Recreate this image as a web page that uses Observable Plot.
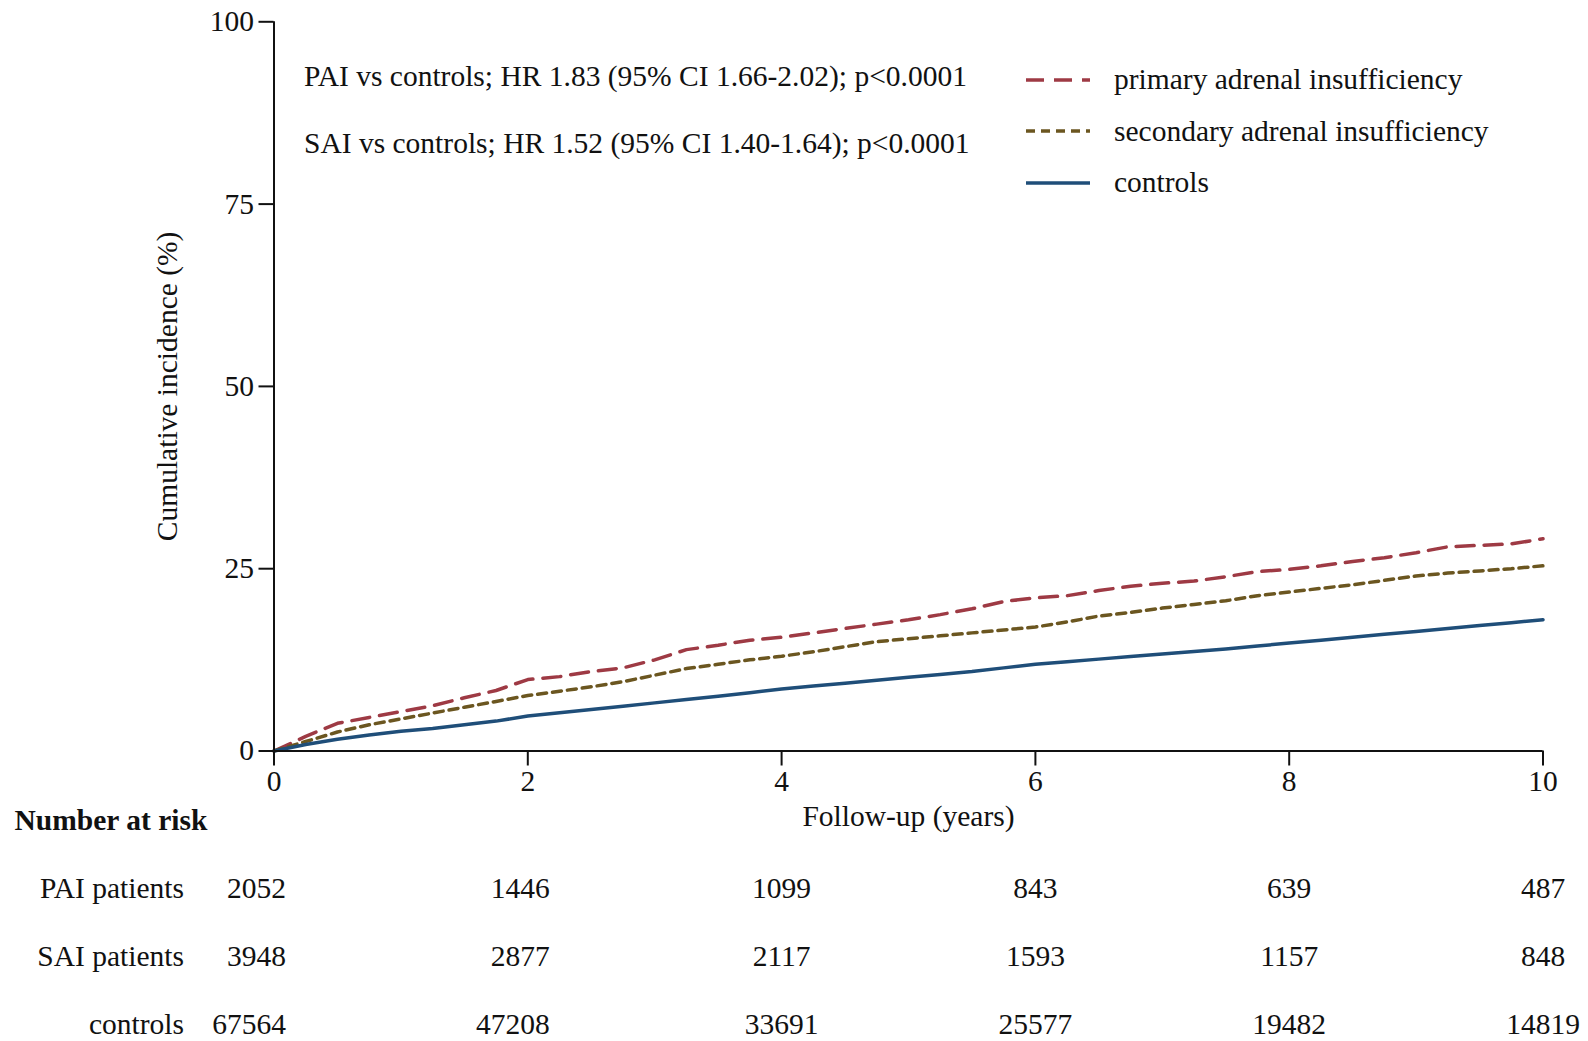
<!DOCTYPE html>
<html>
<head>
<meta charset="utf-8">
<script src="https://cdn.jsdelivr.net/npm/d3@7"></script>
<script src="https://cdn.jsdelivr.net/npm/@observablehq/plot@0.6"></script>
<style>
  html, body { margin: 0; padding: 0; background: #fff; overflow: hidden; }
  #wrap { position: relative; width: 1588px; height: 1041px; font-family: "Liberation Serif", "Times New Roman", serif; }
  #legend { position: absolute; left: 1024px; top: 54px; font-size: 29.5px; color: #111; }
  #legend .row { display: flex; align-items: center; height: 51.5px; white-space: nowrap; }
  #legend svg { width: 70px; height: 10px; margin-right: 20px; flex: none; }
  #table { margin-top: -40px; }
  #main svg, #table svg { max-width: none; }
</style>
</head>
<body>
<div id="wrap">
  <div id="main"></div>
  <div id="table"></div>
  <div id="legend"></div>
</div>
<script>
// ---- data ----
const times = [0,0.25,0.5,0.75,1,1.25,1.5,1.75,2,2.25,2.5,2.75,3,3.25,3.5,3.75,4,4.25,4.5,4.75,5,5.25,5.5,5.75,6,6.25,6.5,6.75,7,7.25,7.5,7.75,8,8.25,8.5,8.75,9,9.25,9.5,9.75,10];
const paiValues = [0,2.0,3.8,4.6,5.4,6.2,7.3,8.3,9.8,10.2,10.9,11.4,12.5,13.9,14.5,15.2,15.6,16.2,16.8,17.4,18.0,18.7,19.5,20.5,21.0,21.3,22.0,22.6,23.0,23.3,23.9,24.6,24.9,25.4,26.0,26.5,27.2,28.0,28.2,28.4,29.1];
const saiValues = [0,1.3,2.6,3.6,4.4,5.2,6.0,6.8,7.6,8.2,8.8,9.5,10.4,11.3,11.9,12.5,13.0,13.6,14.3,15.0,15.4,15.8,16.2,16.6,17.0,17.7,18.5,19.0,19.6,20.1,20.6,21.3,21.8,22.3,22.8,23.4,24.0,24.4,24.7,25.0,25.4];
const ctrlValues = [0,0.9,1.6,2.2,2.7,3.1,3.6,4.1,4.8,5.25,5.7,6.15,6.6,7.05,7.5,8.0,8.5,8.9,9.3,9.7,10.1,10.5,10.9,11.4,11.9,12.25,12.6,12.95,13.3,13.65,14.0,14.4,14.8,15.2,15.6,16.0,16.4,16.8,17.2,17.6,18.0];

const seriesNames = ["primary adrenal insufficiency", "secondary adrenal insufficiency", "controls"];
const seriesColors = ["#9e3a44", "#6b5620", "#1f4e79"];
const seriesDash = ["18,10", "9,6", null];

const xTicks = [0,2,4,6,8,10];
const yTicks = [0,25,50,75,100];
const annotations = [
  "PAI vs controls; HR 1.83 (95% CI 1.66-2.02); p<0.0001",
  "SAI vs controls; HR 1.52 (95% CI 1.40-1.64); p<0.0001"
];

const riskRows = ["PAI patients", "SAI patients", "controls"];
const riskTimes = [0,2,4,6,8,10];
const paiRisk = [2052,1446,1099,843,639,487];
const saiRisk = [3948,2877,2117,1593,1157,848];
const ctrlRisk = [67564,47208,33691,25577,19482,14819];

// ---- build tables ----
const allValues = [paiValues, saiValues, ctrlValues];
const curves = [];
allValues.forEach((vals, i) => times.forEach((t, j) => curves.push({series: seriesNames[i], t, v: vals[j]})));

const riskAll = [paiRisk, saiRisk, ctrlRisk];
const risk = [];
riskAll.forEach((vals, i) => riskTimes.forEach((t, j) => risk.push({row: riskRows[i], t, n: vals[j]})));

const FONT = "Liberation Serif, Times New Roman, serif";
const FS = 29.5;
const W = 1588, ML = 273.5, MR = 45.5;

const lineMarks = seriesNames.map((name, i) =>
  Plot.line(curves.filter(d => d.series === name), {
    x: "t", y: "v", stroke: seriesColors[i], strokeWidth: 3.5,
    strokeDasharray: seriesDash[i] || undefined, strokeLinejoin: "round"
  })
);

const main = Plot.plot({
  width: W, height: 840,
  marginLeft: ML, marginRight: MR, marginTop: 21.3, marginBottom: 89.5,
  style: {fontFamily: FONT, fontSize: FS + "px", color: "#111", background: "transparent"},
  x: {domain: [0, 10], label: null},
  y: {domain: [0, 100], label: null},
  marks: [
    ...lineMarks,
    Plot.ruleY([0], {stroke: "#111", strokeWidth: 2}),
    Plot.ruleX([0], {stroke: "#111", strokeWidth: 2}),
    Plot.axisX({ticks: xTicks, tickSize: 15, tickPadding: 4, strokeWidth: 2, stroke: "#111", fill: "#111", fontSize: FS, tickFormat: d => String(d)}),
    Plot.axisY({ticks: yTicks, tickSize: 15, tickPadding: 5, strokeWidth: 2, stroke: "#111", fill: "#111", fontSize: FS, tickFormat: d => String(d)}),
    Plot.text(["Follow-up (years)"], {frameAnchor: "bottom", textAnchor: "middle", dy: 75, fontSize: FS, fill: "#111"}),
    Plot.text(["Cumulative incidence (%)"], {frameAnchor: "left", textAnchor: "middle", rotate: -90, dx: -106, fontSize: FS, fill: "#111"}),
    Plot.text([annotations[0]], {frameAnchor: "top-left", textAnchor: "start", dx: 30, dy: 54.5, lineAnchor: "middle", fontSize: FS, fill: "#111"}),
    Plot.text([annotations[1]], {frameAnchor: "top-left", textAnchor: "start", dx: 30, dy: 121.5, lineAnchor: "middle", fontSize: FS, fill: "#111"})
  ]
});
document.getElementById("main").appendChild(main);

const table = Plot.plot({
  width: W, height: 241,
  marginLeft: ML, marginRight: MR, marginTop: 0, marginBottom: 0,
  style: {fontFamily: FONT, fontSize: FS + "px", color: "#111", background: "transparent"},
  x: {domain: [0, 10], axis: null},
  y: {type: "point", domain: ["Number at risk", ...riskRows], range: [20, 224], padding: 0, axis: null},
  marks: [
    Plot.text([{label: "Number at risk"}], {y: "label", text: "label", frameAnchor: "left", textAnchor: "start", dx: -259.5, fontWeight: "bold", fontSize: FS, fill: "#111"}),
    Plot.axisY(riskRows, {tickSize: 0, tickPadding: 90, fontSize: FS, fill: "#111", label: null}),
    Plot.text(risk.filter(d => d.t === 0), {x: "t", y: "row", text: d => String(d.n), textAnchor: "end", dx: 12, fontSize: FS, fill: "#111"}),
    Plot.text(risk.filter(d => d.t === 2), {x: "t", y: "row", text: d => String(d.n), textAnchor: "end", dx: 22, fontSize: FS, fill: "#111"}),
    Plot.text(risk.filter(d => d.t > 2), {x: "t", y: "row", text: d => String(d.n), textAnchor: "middle", dx: 0, fontSize: FS, fill: "#111"})
  ]
});
document.getElementById("table").appendChild(table);

// legend
const legend = document.getElementById("legend");
seriesNames.forEach((name, i) => {
  const row = document.createElement("div");
  row.className = "row";
  const dash = seriesDash[i] ? `stroke-dasharray="${seriesDash[i]}"` : "";
  row.innerHTML = `<svg viewBox="0 0 70 10"><line x1="2" y1="5" x2="66" y2="5" stroke="${seriesColors[i]}" stroke-width="3.5" ${dash}/></svg><span>${name}</span>`;
  legend.appendChild(row);
});
</script>
</body>
</html>
